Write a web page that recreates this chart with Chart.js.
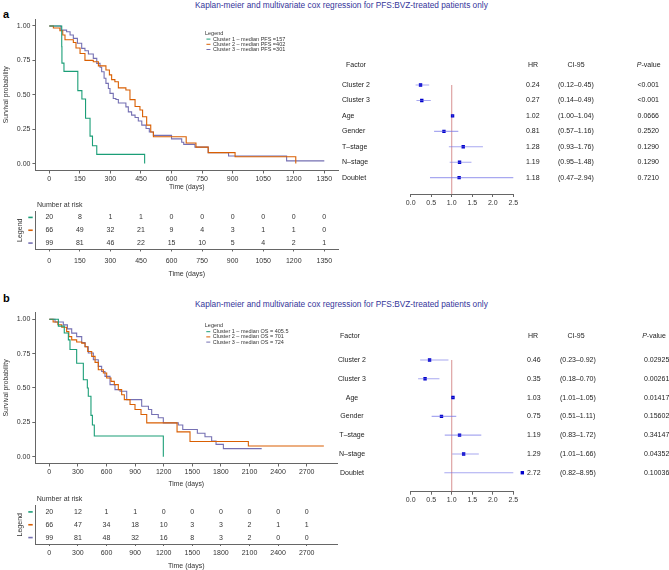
<!DOCTYPE html>
<html>
<head>
<meta charset="utf-8">
<script src="https://cdn.jsdelivr.net/npm/chart.js@4.4.1/dist/chart.umd.min.js"></script>
<style>
  body { margin: 0; background: #fff; width: 669px; height: 570px; overflow: hidden; position: relative;
         font-family: "Liberation Sans", Arial, sans-serif; }
  canvas { position: absolute; }
  .tag { position: absolute; left: 3px; font-weight: bold; font-size: 11px; color: #000; }
  .title { position: absolute; left: 195px; font-size: 8.3px; color: #35359a; white-space: nowrap; }
</style>
</head>
<body>
<div class="tag" style="top:8px">a</div>
<div class="title" style="top:0px">Kaplan-meier and multivariate cox regression for PFS:BVZ-treated patients only</div>
<div class="tag" style="top:292px">b</div>
<div class="title" style="top:299px">Kaplan-meier and multivariate cox regression for PFS:BVZ-treated patients only</div>

<canvas id="kmA" width="345" height="200" style="left:0;top:0"></canvas>
<canvas id="riskA" width="345" height="90" style="left:0;top:195px"></canvas>
<canvas id="forestA" width="339" height="165" style="left:330px;top:50px"></canvas>
<canvas id="kmB" width="345" height="200" style="left:0;top:290px"></canvas>
<canvas id="riskB" width="345" height="80" style="left:0;top:490px"></canvas>
<canvas id="forestB" width="339" height="190" style="left:330px;top:320px"></canvas>

<script>
const FONT = '"Liberation Sans", Arial, sans-serif';
const COLORS = ['#1b9e77', '#d95f02', '#7570b3'];
const AXIS = '#666';
const TXT = '#333';

// ---- panel a : PFS ----
const survTicks = [0, 0.25, 0.5, 0.75, 1];
const pfsTicks = [0, 150, 300, 450, 600, 750, 900, 1050, 1200, 1350];
const pfsC1Days = [61, 62, 72, 140, 160, 178, 200, 212, 233, 468];
const pfsC1Surv = [0.85, 0.73, 0.67, 0.53, 0.47, 0.33, 0.20, 0.13, 0.067, 0];
const pfsC2Days = [20, 52, 66, 77, 118, 131, 151, 175, 216, 241, 278, 295, 306, 322, 339, 376, 396, 421, 445, 458, 478, 498, 511, 672, 720, 780, 912, 1210];
const pfsC2Surv = [0.985, 0.965, 0.935, 0.90, 0.88, 0.84, 0.80, 0.75, 0.74, 0.71, 0.68, 0.645, 0.61, 0.595, 0.55, 0.535, 0.465, 0.415, 0.39, 0.34, 0.28, 0.23, 0.195, 0.15, 0.12, 0.08, 0.05, 0];
const pfsC3Days = [57, 85, 102, 118, 138, 159, 175, 192, 216, 233, 249, 257, 269, 278, 290, 298, 314, 327, 339, 376, 388, 404, 421, 437, 454, 475, 491, 511, 600, 650, 660, 715, 780, 880, 1165, 1350];
const pfsC3Surv = [0.97, 0.958, 0.934, 0.91, 0.875, 0.837, 0.82, 0.796, 0.765, 0.728, 0.70, 0.667, 0.62, 0.583, 0.546, 0.51, 0.473, 0.466, 0.44, 0.412, 0.376, 0.352, 0.335, 0.31, 0.28, 0.255, 0.23, 0.205, 0.18, 0.155, 0.14, 0.12, 0.08, 0.055, 0.02, 0.02];
const pfsLegend = ['Cluster 1 \u2013 median PFS =157', 'Cluster 2 \u2013 median PFS =402', 'Cluster 3 \u2013 median PFS =301'];
const pfsRisk = [
  [20, 8, 1, 1, 0, 0, 0, 0, 0, 0],
  [66, 49, 32, 21, 9, 4, 3, 1, 1, 0],
  [99, 81, 46, 22, 15, 10, 5, 4, 2, 1]
];

// ---- panel b : OS ----
const osTicks = [0, 300, 600, 900, 1200, 1500, 1800, 2100, 2400, 2700];
const osC1Days = [95, 157, 200, 217, 287, 357, 399, 409, 437, 452, 472, 1196];
const osC1Surv = [0.95, 0.90, 0.85, 0.78, 0.68, 0.56, 0.50, 0.44, 0.30, 0.23, 0.15, 0];
const osC2Days = [40, 90, 130, 182, 205, 235, 287, 340, 375, 403, 445, 480, 514, 567, 602, 647, 682, 724, 759, 787, 847, 899, 962, 1022, 1340, 1476, 2088, 2880];
const osC2Surv = [0.98, 0.96, 0.942, 0.91, 0.874, 0.85, 0.835, 0.826, 0.80, 0.765, 0.73, 0.686, 0.633, 0.609, 0.572, 0.548, 0.524, 0.488, 0.451, 0.415, 0.379, 0.343, 0.307, 0.246, 0.18, 0.11, 0.077, 0.077];
const osC3Days = [60, 147, 190, 235, 287, 340, 375, 409, 462, 514, 549, 584, 637, 689, 742, 812, 969, 1040, 1074, 1143, 1196, 1353, 1400, 1553, 1633, 1703, 1749, 1826, 2228];
const osC3Surv = [0.98, 0.959, 0.93, 0.899, 0.874, 0.83, 0.80, 0.754, 0.705, 0.657, 0.62, 0.584, 0.524, 0.488, 0.476, 0.415, 0.367, 0.343, 0.307, 0.283, 0.246, 0.23, 0.198, 0.17, 0.145, 0.113, 0.089, 0.058, 0.058];
const osLegend = ['Cluster 1 \u2013 median OS = 405.5', 'Cluster 2 \u2013 median OS = 701', 'Cluster 3 \u2013 median OS = 724'];
const osRisk = [
  [20, 12, 1, 1, 0, 0, 0, 0, 0, 0],
  [66, 47, 34, 18, 10, 3, 3, 2, 1, 1],
  [99, 81, 48, 32, 16, 8, 3, 2, 0, 0]
];

// ---- forest plots ----
const factors = ['Cluster 2', 'Cluster 3', 'Age', 'Gender', 'T\u2013stage', 'N\u2013stage', 'Doublet'];
const hrTicks = [0, 0.5, 1, 1.5, 2, 2.5];
const pfsHR = [0.24, 0.27, 1.02, 0.81, 1.28, 1.19, 1.18];
const pfsLo = [0.12, 0.14, 1.00, 0.57, 0.93, 0.95, 0.47];
const pfsHi = [0.45, 0.49, 1.04, 1.16, 1.76, 1.48, 2.94];
const pfsP = ['<0.001', '<0.001', '0.0666', '0.2520', '0.1290', '0.1290', '0.7210'];
const osHR = [0.46, 0.35, 1.03, 0.75, 1.19, 1.29, 2.72];
const osLo = [0.23, 0.18, 1.01, 0.51, 0.83, 1.01, 0.82];
const osHi = [0.92, 0.70, 1.05, 1.11, 1.72, 1.66, 8.95];
const osP = ['0.02925', '0.00261', '0.01417', '0.15602', '0.34147', '0.04352', '0.10036'];

const font = (s, w) => ({ family: FONT, size: s, weight: w || 'normal' });
const setTicks = vals => s => { s.ticks = vals.map(v => ({ value: v })); };

const kmText = {
  id: 'kmText',
  afterDraw(chart, args, o) {
    const { ctx, chartArea: a } = chart;
    ctx.save();
    ctx.fillStyle = TXT;
    ctx.textBaseline = 'middle';
    ctx.font = '6.8px ' + FONT;
    ctx.textAlign = 'center';
    ctx.fillText('Time (days)', (a.left + a.right) / 2, o.xTitleY);
    ctx.save();
    ctx.translate(6.3, (a.top + a.bottom) / 2);
    ctx.rotate(-Math.PI / 2);
    ctx.fillText('Survival probability', 0, 0);
    ctx.restore();
    // legend
    ctx.textAlign = 'left';
    ctx.font = '5.5px ' + FONT;
    const lx = a.left + 169.5;
    ctx.fillText('Legend', lx, a.top + o.legTop);
    o.labels.forEach((t, i) => {
      const y = a.top + o.legTop + 6 + i * 5.2;
      ctx.strokeStyle = COLORS[i];
      ctx.lineWidth = 1;
      ctx.beginPath(); ctx.moveTo(lx + 1.5, y); ctx.lineTo(lx + 5.5, y); ctx.stroke();
      ctx.fillText(t, lx + 8, y);
    });
    ctx.restore();
  }
};

function drawKM(id, o) {
  const pts = (d, s) => [{ x: 0, y: 1 }].concat(d.map((t, i) => ({ x: t, y: s[i] })));
  new Chart(document.getElementById(id), {
    type: 'line',
    data: {
      datasets: o.series.map((s, i) => ({
        data: pts(s[0], s[1]), borderColor: COLORS[i], borderWidth: 1.1,
        stepped: 'before', pointRadius: 0, fill: false
      }))
    },
    options: {
      responsive: false, animation: false, devicePixelRatio: 1,
      layout: { padding: { top: o.top, right: o.right, left: 0, bottom: 0 } },
      scales: {
        x: {
          type: 'linear', min: o.xMin, max: o.xMax,
          afterFit: s => { s.height = o.xh; }, afterBuildTicks: setTicks(o.ticks),
          grid: { drawOnChartArea: false, tickLength: 3, color: AXIS },
          border: { color: AXIS },
          ticks: { font: font(7), color: TXT, padding: o.tickPad, maxRotation: 0, autoSkip: false, callback: v => String(v) }
        },
        y: {
          min: -0.05, max: 1.05,
          afterFit: s => { s.width = o.yw; }, afterBuildTicks: setTicks(survTicks),
          grid: { drawOnChartArea: false, tickLength: 3, color: AXIS },
          border: { color: AXIS },
          ticks: { font: font(7), color: TXT, padding: 2, callback: v => v.toFixed(2) }
        }
      },
      plugins: {
        legend: { display: false }, tooltip: { enabled: false },
        kmText: { xTitleY: o.xTitleY, labels: o.labels, legTop: o.legTop }
      }
    },
    plugins: [kmText]
  });
}

const riskText = {
  id: 'riskText',
  afterDraw(chart, args, o) {
    const { ctx, chartArea: a, scales } = chart;
    ctx.save();
    ctx.fillStyle = TXT;
    ctx.textBaseline = 'middle';
    ctx.font = '7px ' + FONT;
    ctx.textAlign = 'left';
    ctx.fillText('Number at risk', a.left + 1.5, o.headY);
    ctx.textAlign = 'center';
    o.risk.forEach((row, r) => {
      const y = scales.y.getPixelForValue(r);
      row.forEach((n, j) => ctx.fillText(String(n), scales.x.getPixelForValue(o.ticks[j]), y));
      ctx.strokeStyle = COLORS[r];
      ctx.lineWidth = 1.6;
      ctx.beginPath(); ctx.moveTo(28.3, y); ctx.lineTo(32.7, y); ctx.stroke();
    });
    ctx.fillText('Time (days)', (a.left + a.right) / 2, o.xTitleY);
    ctx.translate(20.5, (a.top + a.bottom) / 2);
    ctx.rotate(-Math.PI / 2);
    ctx.fillText('Legend', 0, 0);
    ctx.restore();
  }
};

function drawRisk(id, o) {
  new Chart(document.getElementById(id), {
    type: 'line',
    data: { labels: ['Cluster 1', 'Cluster 2', 'Cluster 3'], datasets: [] },
    options: {
      responsive: false, animation: false, devicePixelRatio: 1,
      layout: { padding: { top: o.top, right: o.right, left: 0, bottom: 0 } },
      scales: {
        x: {
          type: 'linear', min: o.xMin, max: o.xMax,
          afterFit: s => { s.height = o.xh; }, afterBuildTicks: setTicks(o.ticks),
          grid: { drawOnChartArea: false, tickLength: 2, color: AXIS },
          border: { color: AXIS },
          ticks: { font: font(7), color: TXT, padding: o.tickPad, maxRotation: 0, autoSkip: false, callback: v => String(v) }
        },
        y: {
          type: 'category', offset: true,
          afterFit: s => { s.width = o.yw; },
          grid: { display: false },
          border: { display: true, color: AXIS },
          ticks: { display: false }
        }
      },
      plugins: {
        legend: { display: false }, tooltip: { enabled: false },
        riskText: { risk: o.risk, ticks: o.ticks, headY: o.headY, xTitleY: o.xTitleY }
      }
    },
    plugins: [riskText]
  });
}

const forestText = {
  id: 'forestText',
  beforeDatasetsDraw(chart) {
    const { ctx, chartArea: a, scales } = chart;
    const x1 = scales.x.getPixelForValue(1);
    ctx.save();
    ctx.strokeStyle = 'rgba(190,70,70,0.75)';
    ctx.lineWidth = 0.8;
    ctx.beginPath(); ctx.moveTo(x1, scales.y.getPixelForValue(0)); ctx.lineTo(x1, a.bottom); ctx.stroke();
    ctx.restore();
  },
  afterDatasetsDraw(chart, args, o) {
    // estimates beyond the axis end are still marked, as in the source figure
    const { ctx, scales } = chart;
    ctx.save();
    ctx.fillStyle = '#0000cc';
    o.hr.forEach((h, i) => {
      if (h <= scales.x.max) return;
      const x = scales.x.getPixelForValue(h), y = scales.y.getPixelForValue(i);
      ctx.fillRect(x - 1.7, y - 1.7, 3.4, 3.4);
    });
    ctx.restore();
  },
  afterDraw(chart, args, o) {
    const { ctx, scales } = chart;
    const c = o.cols;
    ctx.save();
    ctx.fillStyle = '#222';
    ctx.textBaseline = 'middle';
    ctx.font = '7px ' + FONT;
    const hy = scales.y.getPixelForValue(o.headRow);
    ctx.textAlign = 'center';
    ctx.fillText('Factor', c.factorHead, hy);
    ctx.fillText('HR', c.hrHead, hy);
    ctx.fillText('CI-95', c.ciHead, hy);
    // P-value header, italic P
    ctx.font = 'italic 7px ' + FONT;
    const wP = ctx.measureText('P').width;
    ctx.font = '7px ' + FONT;
    const wRest = ctx.measureText('-value').width;
    const px0 = c.pHead - (wP + wRest) / 2;
    ctx.textAlign = 'left';
    ctx.font = 'italic 7px ' + FONT;
    ctx.fillText('P', px0, hy);
    ctx.font = '7px ' + FONT;
    ctx.fillText('-value', px0 + wP, hy);
    o.factors.forEach((f, i) => {
      const y = scales.y.getPixelForValue(i);
      ctx.textAlign = c.factorAlign;
      ctx.fillText(f, c.factor, y);
      ctx.textAlign = 'left';
      ctx.fillText(o.hr[i].toFixed(2), c.hr, y);
      ctx.fillText('(' + o.lo[i].toFixed(2) + '\u2013' + o.hi[i].toFixed(2) + ')', c.ci, y);
      ctx.textAlign = c.pAlign;
      ctx.fillText(o.p[i], c.p, y);
    });
    ctx.restore();
  }
};

function drawForest(id, o) {
  const ciSets = o.hr.map((h, i) => ({
    type: 'line', data: [{ x: o.lo[i], y: i }, { x: o.hi[i], y: i }],
    borderColor: 'rgba(110,110,230,0.6)', borderWidth: 1.1, pointRadius: 0
  }));
  const pointSet = {
    type: 'scatter', data: o.hr.map((h, i) => ({ x: h, y: i })),
    backgroundColor: '#0000cc', borderColor: '#0000cc', borderWidth: 0,
    pointStyle: 'rect', pointRadius: 2.4
  };
  new Chart(document.getElementById(id), {
    type: 'scatter',
    data: { datasets: ciSets.concat([pointSet]) },
    options: {
      responsive: false, animation: false, devicePixelRatio: 1,
      layout: { padding: { top: o.top, right: o.right, left: o.left, bottom: 0 } },
      scales: {
        x: {
          type: 'linear', min: 0, max: 2.5,
          afterFit: s => { s.height = o.xh; }, afterBuildTicks: setTicks(hrTicks),
          grid: { drawOnChartArea: false, tickLength: 3, color: AXIS },
          border: { color: AXIS },
          ticks: { font: font(7), color: TXT, padding: 1.5, maxRotation: 0, autoSkip: false, callback: v => v.toFixed(1) }
        },
        y: { type: 'linear', reverse: true, min: -0.5, max: o.yMax, display: false }
      },
      plugins: {
        legend: { display: false }, tooltip: { enabled: false },
        forestText: { factors: factors, hr: o.hr, lo: o.lo, hi: o.hi, p: o.p, headRow: o.headRow, cols: o.cols }
      }
    },
    plugins: [forestText]
  });
}

drawKM('kmA', {
  series: [[pfsC1Days, pfsC1Surv], [pfsC2Days, pfsC2Surv], [pfsC3Days, pfsC3Surv]],
  labels: pfsLegend, ticks: pfsTicks, xMin: -68, xMax: 1418,
  top: 19.1, right: 6.85, yw: 35.45, xh: 29.5, tickPad: 1, xTitleY: 187, legTop: 14
});
drawRisk('riskA', {
  risk: pfsRisk, ticks: pfsTicks, xMin: -68, xMax: 1418,
  top: 16, right: 6.85, yw: 35.45, xh: 35.5, tickPad: 5, headY: 10, xTitleY: 79
});
drawKM('kmB', {
  series: [[osC1Days, osC1Surv], [osC2Days, osC2Surv], [osC3Days, osC3Surv]],
  labels: osLegend, ticks: osTicks, xMin: -147, xMax: 3020,
  top: 22.4, right: 7.8, yw: 35.29, xh: 26.5, tickPad: 1.5, xTitleY: 194.3, legTop: 13.3
});
drawRisk('riskB', {
  risk: osRisk, ticks: osTicks, xMin: -147, xMax: 3020,
  top: 15.5, right: 7.8, yw: 35.29, xh: 26, tickPad: 3.2, headY: 9.3, xTitleY: 75.7
});
drawForest('forestA', {
  hr: pfsHR, lo: pfsLo, hi: pfsHi, p: pfsP,
  top: 27.3, left: 80.7, right: 155.7, xh: 21, yMax: 7.06, headRow: -1.29,
  cols: { factor: 12, factorAlign: 'left', hr: 196, ci: 228, p: 329, pAlign: 'right',
          factorHead: 26, hrHead: 203, ciHead: 246, pHead: 318.7 }
});
drawForest('forestB', {
  hr: osHR, lo: osLo, hi: osHi, p: osP,
  top: 30.6, left: 80.7, right: 155.7, xh: 18.3, yMax: 7.01, headRow: -1.28,
  cols: { factor: 22, factorAlign: 'center', hr: 197, ci: 230, p: 314, pAlign: 'left',
          factorHead: 20, hrHead: 203, ciHead: 246, pHead: 324 }
});
</script>
</body>
</html>
